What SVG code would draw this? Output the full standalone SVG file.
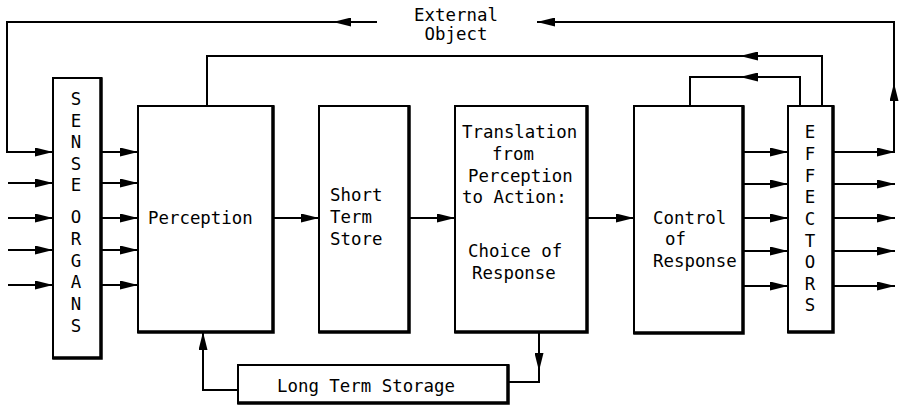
<svg xmlns="http://www.w3.org/2000/svg" width="900" height="408" viewBox="0 0 900 408">
  <defs>
    <style>
      .box { fill: #fff; stroke: #000; stroke-width: 2; }
      .shade { fill: none; stroke: #000; stroke-width: 3.5; stroke-linecap: square; }
      .wire { fill: none; stroke: #000; stroke-width: 2; }
      .arr { marker-end: url(#head); }
      text { font-family: "DejaVu Sans Mono", "Liberation Mono", monospace; font-size: 17.4px; fill: #000; }
      .mid { text-anchor: middle; }
    </style>
    <marker id="head" viewBox="0 0 18 9" refX="18" refY="4.5" markerWidth="18" markerHeight="9" orient="auto" markerUnits="userSpaceOnUse">
      <path d="M0,0 L18,4.5 L0,9 Z" fill="#000"/>
    </marker>
  </defs>
  <rect width="900" height="408" fill="#fff"/>

  <!-- connectors -->
  <g id="connectors">
    <!-- external object loop, top -->
    <path class="wire" d="M894,152 V22 H537"/>
    <path class="wire arr" d="M894,152 V83"/>
    <path class="wire arr" d="M560,22 H537"/>
    <path class="wire arr" d="M377,22 H333"/>
    <path class="wire arr" d="M333,22 H7 V152 H53"/>
    <!-- feedback from effectors -->
    <path class="wire arr" d="M822,106 V56 H740"/>
    <path class="wire" d="M740,56 H207 V106"/>
    <path class="wire arr" d="M800,106 V77 H740"/>
    <path class="wire" d="M740,77 H690 V106"/>
    <!-- stimuli into sense organs -->
    <path class="wire arr" d="M8,183 H53"/>
    <path class="wire arr" d="M8,218 H53"/>
    <path class="wire arr" d="M8,250 H53"/>
    <path class="wire arr" d="M8,285 H53"/>
    <!-- sense organs to perception -->
    <path class="wire arr" d="M101,152 H138"/>
    <path class="wire arr" d="M101,183 H138"/>
    <path class="wire arr" d="M101,218 H138"/>
    <path class="wire arr" d="M101,250 H138"/>
    <path class="wire arr" d="M101,285 H138"/>
    <!-- main chain -->
    <path class="wire arr" d="M273,218 H319"/>
    <path class="wire arr" d="M409,218 H455"/>
    <path class="wire arr" d="M587,218 H634"/>
    <!-- control to effectors -->
    <path class="wire arr" d="M743,152 H788"/>
    <path class="wire arr" d="M743,184 H788"/>
    <path class="wire arr" d="M743,218 H788"/>
    <path class="wire arr" d="M743,251 H788"/>
    <path class="wire arr" d="M743,286 H788"/>
    <!-- effector outputs -->
    <path class="wire arr" d="M833,152 H895"/>
    <path class="wire arr" d="M833,184 H895"/>
    <path class="wire arr" d="M833,218 H895"/>
    <path class="wire arr" d="M833,251 H895"/>
    <path class="wire arr" d="M833,286 H895"/>
    <!-- long term storage links -->
    <path class="wire arr" d="M238,390 H203 V332"/>
    <path class="wire" d="M539,332 V382 H508"/>
    <path class="wire arr" d="M539,332 V371"/>
  </g>

  <text class="mid" x="456" y="21">External</text>
  <text class="mid" x="456" y="40">Object</text>

  <g id="sense-organs">
    <rect class="box" x="53" y="78" width="48" height="280"/>
    <path class="shade" d="M101,79 V358 H54"/>
    <g class="mid">
      <text x="76" y="105">S</text>
      <text x="76" y="127">E</text>
      <text x="76" y="148">N</text>
      <text x="76" y="170">S</text>
      <text x="76" y="191">E</text>
      <text x="76" y="223">O</text>
      <text x="76" y="245">R</text>
      <text x="76" y="267">G</text>
      <text x="76" y="288">A</text>
      <text x="76" y="310">N</text>
      <text x="76" y="332">S</text>
    </g>
  </g>

  <g id="perception">
    <rect class="box" x="138" y="106" width="135" height="226"/>
    <path class="shade" d="M273,107 V332 H139"/>
    <text x="148" y="224">Perception</text>
  </g>

  <g id="short-term-store">
    <rect class="box" x="319" y="106" width="90" height="226"/>
    <path class="shade" d="M409,107 V332 H320"/>
    <text x="330" y="201">Short</text>
    <text x="330" y="223">Term</text>
    <text x="330" y="245">Store</text>
  </g>

  <g id="translation">
    <rect class="box" x="455" y="106" width="132" height="226"/>
    <path class="shade" d="M587,107 V332 H456"/>
    <text x="462" y="138">Translation</text>
    <text x="492" y="160">from</text>
    <text x="468" y="182">Perception</text>
    <text x="462" y="203">to Action:</text>
    <text x="468" y="257">Choice of</text>
    <text x="472" y="279">Response</text>
  </g>

  <g id="control">
    <rect class="box" x="634" y="106" width="109" height="227"/>
    <path class="shade" d="M743,107 V333 H635"/>
    <text x="653" y="224">Control</text>
    <text x="665" y="245">of</text>
    <text x="653" y="267">Response</text>
  </g>

  <g id="effectors">
    <rect class="box" x="788" y="106" width="45" height="226"/>
    <path class="shade" d="M833,107 V332 H789"/>
    <g class="mid">
      <text x="810" y="138">E</text>
      <text x="810" y="160">F</text>
      <text x="810" y="182">F</text>
      <text x="810" y="203">E</text>
      <text x="810" y="225">C</text>
      <text x="810" y="247">T</text>
      <text x="810" y="268">O</text>
      <text x="810" y="290">R</text>
      <text x="810" y="311">S</text>
    </g>
  </g>

  <g id="long-term-storage">
    <rect class="box" x="238" y="365" width="270" height="38"/>
    <path class="shade" d="M508,366 V403 H239"/>
    <text x="277" y="392">Long Term Storage</text>
  </g>
</svg>
